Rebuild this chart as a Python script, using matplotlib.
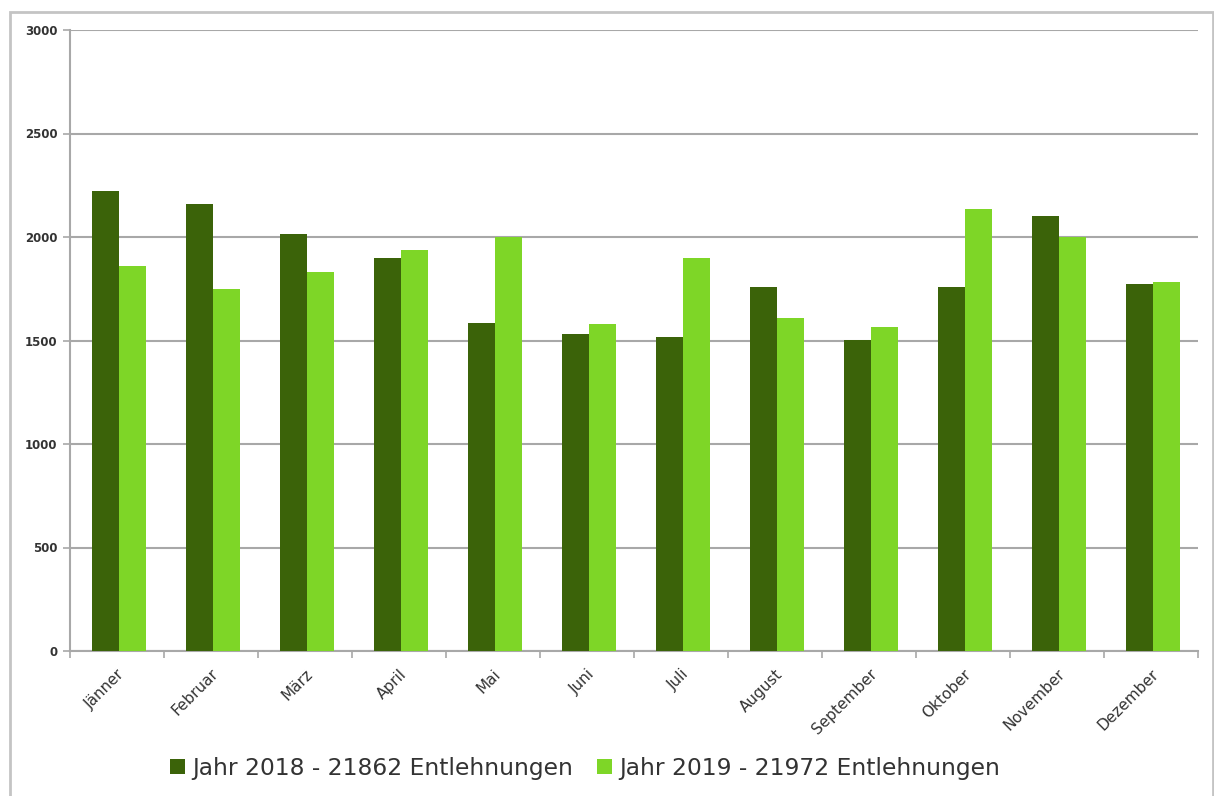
import matplotlib.pyplot as plt
import matplotlib.patches as mpatches
import numpy as np

# Monthly loans (Entlehnungen)
months = ['Jänner', 'Februar', 'März', 'April', 'Mai', 'Juni',
          'Juli', 'August', 'September', 'Oktober', 'November', 'Dezember']
loans_2018 = [2222, 2160, 2015, 1900, 1585, 1532, 1517, 1760, 1502, 1760, 2102, 1775]
loans_2019 = [1862, 1750, 1830, 1938, 2000, 1580, 1900, 1610, 1566, 2136, 2000, 1785]
label_2018 = 'Jahr 2018 - 21862 Entlehnungen'
label_2019 = 'Jahr 2019 - 21972 Entlehnungen'
yticks = [0, 500, 1000, 1500, 2000, 2500, 3000]

DARK = '#3b6309'
LIGHT = '#7ed627'
GRID = '#a8a8a8'
TEXT = '#333333'

fig = plt.figure(figsize=(12.14, 7.96), dpi=100)
ax = fig.add_axes([70 / 1214, 145 / 796, 1128 / 1214, 621 / 796])

# outer frame around the whole chart
frame = mpatches.Rectangle((10 / 1214, -0.01), 1203 / 1214, (784 + 8) / 796,
                           transform=fig.transFigure, fill=False,
                           edgecolor='#c4c4c4', linewidth=2, zorder=0)
fig.patches.append(frame)

x = np.arange(len(months))
w = 0.285
ax.bar(x - w / 2 + 0.02, loans_2018, w, color=DARK, label=label_2018, zorder=3)
ax.bar(x + w / 2 + 0.02, loans_2019, w, color=LIGHT, label=label_2019, zorder=3)

ax.set_xlim(-0.5, len(months) - 0.5)
ax.set_ylim(0, 3000)
ax.set_yticks(yticks)
ax.set_yticklabels([str(t) for t in yticks], fontsize=8.5, color=TEXT,
                   fontweight='bold')
ax.yaxis.grid(True, color=GRID, linewidth=1.5, zorder=0)
ax.tick_params(axis='y', length=5, color=GRID, width=1.2, pad=4)

ax.set_xticks(x)
ax.set_xticklabels(months, rotation=45, ha='right', rotation_mode='anchor',
                   fontsize=11, color=TEXT)
ax.tick_params(axis='x', which='major', length=0, pad=11)
ax.set_xticks(np.arange(-0.5, len(months)), minor=True)
ax.tick_params(axis='x', which='minor', length=5, color=GRID, width=1.2)

for side in ['top', 'right']:
    ax.spines[side].set_visible(False)
for side in ['left', 'bottom']:
    ax.spines[side].set_color(GRID)
    ax.spines[side].set_linewidth(1.5)

leg = fig.legend(loc='center', bbox_to_anchor=(585 / 1214, 1 - 768 / 796),
                 ncol=2, frameon=False, fontsize=16.8, handlelength=0.65,
                 handleheight=0.65, handletextpad=0.3, columnspacing=1.0)
for t in leg.get_texts():
    t.set_color(TEXT)

fig.savefig('out.png', dpi=100)
